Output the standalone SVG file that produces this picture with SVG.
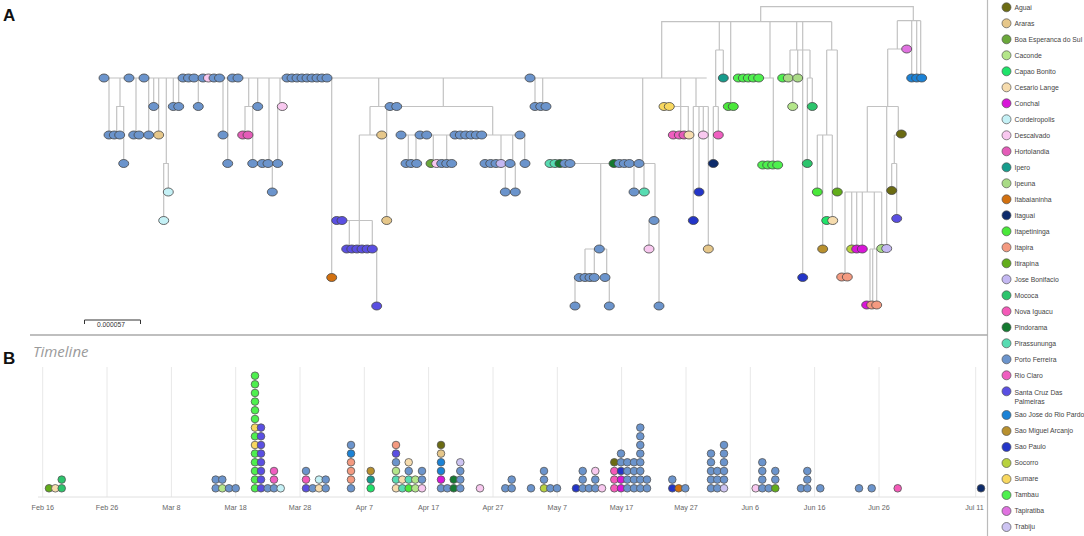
<svg xmlns="http://www.w3.org/2000/svg" xmlns:xlink="http://www.w3.org/1999/xlink" width="1084" height="536" viewBox="0 0 1084 536">
<style>
text{font-family:"Liberation Sans",Arial,sans-serif}
.lbl{font-size:17px;font-weight:bold;fill:#111}
.edges{fill:none;stroke:#c2c2c2;stroke-width:1.2}
.tn use{stroke:#454545;stroke-width:.8}
.tl use{stroke:#555;stroke-width:.8}
.lg circle{stroke:#555;stroke-width:.7}
.lg text{font-size:6.8px;fill:#444}
.ax{font-size:7.2px;fill:#666;text-anchor:middle}
.grid{stroke:#e8e8e8;stroke-width:1}
.ag{fill:#6b6b12}.ar{fill:#e6c78a}.bo{fill:#6aa83a}.ca{fill:#b4e68a}.cb{fill:#1fe36a}.cl{fill:#f6dcae}.cn{fill:#d816d8}.co{fill:#c5f1f6}.de{fill:#f8c8ef}.ho{fill:#e45cb8}.ie{fill:#169c8c}.ip{fill:#a9db86}.ib{fill:#d2700f}.ig{fill:#0d2b6b}.it{fill:#4ae83a}.ia{fill:#f49a80}.ir{fill:#62ad1a}.jb{fill:#c4b8f2}.mo{fill:#2cc46c}.ni{fill:#f45ab8}.pn{fill:#147a30}.pi{fill:#58dcb2}.pf{fill:#6b94cc}.rc{fill:#ef5ec0}.sc{fill:#5a4fe2}.sj{fill:#1b82d6}.sm{fill:#b8902e}.sp{fill:#2335c8}.so{fill:#b8d23e}.su{fill:#f8d860}.ta{fill:#4ef04e}.tp{fill:#e072e0}.tr{fill:#cdc4f2}
</style>
<defs>
<ellipse id="n" cx="0" cy="0" rx="5" ry="4"/>
<circle id="d" cx="0" cy="0" r="3.8"/>
</defs>
<rect width="1084" height="536" fill="#fff"/>
<text class="lbl" x="3" y="21">A</text>
<text class="lbl" x="3" y="364">B</text>
<line x1="987.5" y1="0" x2="987.5" y2="536" stroke="#bbb" stroke-width="1.2"/>
<line x1="30" y1="335" x2="987.5" y2="335" stroke="#aaa" stroke-width="1.5"/>
<g id="scale-bar">
<path d="M84.5,324 V320 H140.5 V324" fill="none" stroke="#333" stroke-width="1"/>
<text x="111" y="326.5" font-size="6.7" text-anchor="middle" fill="#333">0.000057</text>
</g>
<g id="connectors" class="edges">
<path d="M760.7,21.7 V6.7 H913.3 V20.7 M661.7,78 V21.7 H831.7 M104,78 H706.7
M109,78 V135 M120,78 V106.5 M116.7,135 V106.5 H123.7 V163.5 M136,78 V135 M148.7,78 V135 M153.7,78 V106.5 M158.7,78 V135
M166.3,78 V163.5 M163.7,220.5 V163.5 H168.3 V192 M173.3,78 V106.5 M178.7,78 V106.5 M198.3,78 V106.5 M223,78 V135 M227.7,78 V163.5
M248.7,78 V106.5 M245,135 V106.5 H252.7 V163.5 M257.7,78 V106.5 M269,78 V163.5 M272.3,163.5 V192 M280,78 V106.5 M277.7,106.5 V163.5 M331.7,78 V277.5
M378.7,78 V106.5 M443.3,78 V106.5 M370,106.5 H492.7 M370,106.5 V135 M359.3,135 H381.7 M359.3,135 V249
M342,220.5 H372.3 M349.3,220.5 V249 M372.3,220.5 V249 M376.7,249 V306 M386.7,106.5 V220.5
M492.7,106.5 V135 M401,135 H525 M408.3,135 V163.5 M416,135 V163.5 M433.3,135 V163.5 M446.7,135 V163.5
M501,135 V163.5 M512.7,135 V163.5 M505.3,163.5 V192 M515.3,163.5 V192 M524.7,135 V163.5 M535,78 V106.5 M542.7,78 V106.5
M642.7,78 V163.5 M550,163.5 H655 M634,163.5 V192 M644,163.5 V192 M655,163.5 V220.5 M649,220.5 V249 M659,220.5 V306
M600.7,163.5 V249 M585,249 H606.7 M585,249 V277.5 M594.3,249 V277.5 M606.7,249 V277.5 M575,277.5 V306 M609.3,277.5 V306
M680.7,78 V135 M669,106.5 H688.3 V135 M696,78 V106.5 M693.3,106.5 H708.3 M693.3,106.5 V220.5 M699,106.5 V192 M703.3,106.5 V135 M708.3,106.5 V249
M719.3,21.7 V50 M715.7,50 H723.3 M723.3,50 V78 M715.7,50 V106.5 M713.3,106.5 H718.3 M718.3,106.5 V135 M713.3,106.5 V163.5
M730.7,21.7 V106.5 M770,21.7 V78 M738,78 H773.3 V163.5
M796.7,21.7 V50 M790,50 H810 M790,50 V78 M797.7,50 V78 M792.7,78 V106.5 M810,50 V78 M807.3,78 H812.3 M812.3,78 V106.5 M807.3,78 V163.5
M802.7,21.7 V277.5 M831.7,21.7 V50 M826.7,50 H837.3 M826.7,50 V135 M837.3,50 V192 M817.3,135 H832.3 M817.3,135 V192 M822.7,135 V249 M832.3,135 V220.5
M897.3,20.7 H920.7 M911.7,20.7 V78 M916.7,20.7 V78 M920.7,20.7 V78 M897.3,20.7 V49 M887.7,49 H906.7 M887.7,49 V106.5 M867.3,106.5 H898.3
M898.3,106.5 V135 M894.3,135 H901 M894.3,135 V163.5 M891.7,163.5 H896.7 M891.7,163.5 V192 M896.7,163.5 V220.5 M886.7,106.5 V249
M867.3,106.5 V192 M845,192 H881.7 M845,192 V277.5 M851.7,192 V249 M856.7,192 V249 M862.3,192 V249 M874.3,192 V249 M870,249 H876.7 M870,249 V306 M872.7,249 V306 M876.7,249 V306 M881.7,192 V249"/>
</g>
<g id="tree-nodes" class="tn">
<g id="t1"><use href="#n" x="104" y="78" class="pf"/></g>
<g id="t2"><use href="#n" x="129" y="78" class="pf"/></g>
<g id="t3"><use href="#n" x="144" y="78" class="pf"/></g>
<g id="t4"><use href="#n" x="183" y="78" class="pf"/><use href="#n" x="188.5" y="78" class="pf"/><use href="#n" x="194" y="78" class="pf"/></g>
<g id="t5"><use href="#n" x="203" y="78" class="pf"/><use href="#n" x="208.5" y="78" class="de"/><use href="#n" x="214" y="78" class="pf"/><use href="#n" x="219.5" y="78" class="pf"/></g>
<g id="t6"><use href="#n" x="232.5" y="78" class="pf"/><use href="#n" x="238" y="78" class="pf"/></g>
<g id="t7"><use href="#n" x="287" y="78" class="pf"/><use href="#n" x="292" y="78" class="pf"/><use href="#n" x="297" y="78" class="pf"/><use href="#n" x="302" y="78" class="pf"/><use href="#n" x="307" y="78" class="pf"/><use href="#n" x="312" y="78" class="pf"/><use href="#n" x="317" y="78" class="pf"/><use href="#n" x="322" y="78" class="pf"/><use href="#n" x="327" y="78" class="pf"/></g>
<g id="t8"><use href="#n" x="530" y="78" class="pf"/></g>
<g id="t9"><use href="#n" x="723.3" y="78" class="ie"/></g>
<g id="t10"><use href="#n" x="738.3" y="78" class="ta"/><use href="#n" x="743.3" y="78" class="ta"/><use href="#n" x="748.3" y="78" class="ta"/><use href="#n" x="753.3" y="78" class="ta"/><use href="#n" x="758.7" y="78" class="ta"/></g>
<g id="t11"><use href="#n" x="782.7" y="78" class="ta"/><use href="#n" x="788.3" y="78" class="ip"/></g>
<g id="t12"><use href="#n" x="797.7" y="78" class="ip"/></g>
<g id="t13"><use href="#n" x="911.7" y="78" class="sj"/><use href="#n" x="916.7" y="78" class="sj"/><use href="#n" x="921.7" y="78" class="sj"/></g>
<g id="t14"><use href="#n" x="153.7" y="106.5" class="pf"/></g>
<g id="t15"><use href="#n" x="173.3" y="106.5" class="pf"/><use href="#n" x="178.7" y="106.5" class="pf"/></g>
<g id="t16"><use href="#n" x="198.3" y="106.5" class="pf"/></g>
<g id="t17"><use href="#n" x="257.7" y="106.5" class="pf"/></g>
<g id="t18"><use href="#n" x="282.3" y="106.5" class="de"/></g>
<g id="t19"><use href="#n" x="390" y="106.5" class="pf"/><use href="#n" x="396.7" y="106.5" class="pf"/></g>
<g id="t20"><use href="#n" x="535" y="106.5" class="pf"/><use href="#n" x="540.7" y="106.5" class="pf"/><use href="#n" x="546" y="106.5" class="pf"/></g>
<g id="t21"><use href="#n" x="664" y="106.5" class="su"/><use href="#n" x="669.3" y="106.5" class="su"/></g>
<g id="t22"><use href="#n" x="728.3" y="106.5" class="it"/><use href="#n" x="733.3" y="106.5" class="it"/></g>
<g id="t23"><use href="#n" x="792.7" y="106.5" class="ca"/></g>
<g id="t24"><use href="#n" x="812.3" y="106.5" class="mo"/></g>
<g id="t25"><use href="#n" x="906.7" y="49" class="tp"/></g>
<g id="t26"><use href="#n" x="109" y="135" class="pf"/><use href="#n" x="114.3" y="135" class="pf"/><use href="#n" x="119.7" y="135" class="pf"/></g>
<g id="t27"><use href="#n" x="133.7" y="135" class="pf"/><use href="#n" x="139" y="135" class="pf"/></g>
<g id="t28"><use href="#n" x="148.7" y="135" class="pf"/></g>
<g id="t29"><use href="#n" x="158.7" y="135" class="ar"/></g>
<g id="t30"><use href="#n" x="223" y="135" class="pf"/></g>
<g id="t31"><use href="#n" x="242.7" y="135" class="ho"/><use href="#n" x="248" y="135" class="ho"/></g>
<g id="t32"><use href="#n" x="381.7" y="135" class="ar"/></g>
<g id="t33"><use href="#n" x="401" y="135" class="pf"/></g>
<g id="t34"><use href="#n" x="420" y="135" class="pf"/><use href="#n" x="426.7" y="135" class="pf"/></g>
<g id="t35"><use href="#n" x="455" y="135" class="pf"/><use href="#n" x="460.3" y="135" class="pf"/><use href="#n" x="465.7" y="135" class="pf"/><use href="#n" x="471" y="135" class="pf"/><use href="#n" x="476.3" y="135" class="pf"/><use href="#n" x="481.7" y="135" class="pf"/></g>
<g id="t36"><use href="#n" x="520" y="135" class="pf"/></g>
<g id="t37"><use href="#n" x="673.3" y="135" class="rc"/><use href="#n" x="679.3" y="135" class="rc"/><use href="#n" x="684" y="135" class="ho"/><use href="#n" x="689" y="135" class="cl"/></g>
<g id="t38"><use href="#n" x="703.3" y="135" class="de"/></g>
<g id="t39"><use href="#n" x="718.3" y="135" class="rc"/></g>
<g id="t40"><use href="#n" x="901.3" y="134" class="ag"/></g>
<g id="t41"><use href="#n" x="123.7" y="163.5" class="pf"/></g>
<g id="t42"><use href="#n" x="227.7" y="163.5" class="pf"/></g>
<g id="t43"><use href="#n" x="252.7" y="163.5" class="pf"/></g>
<g id="t44"><use href="#n" x="262.3" y="163.5" class="pf"/><use href="#n" x="268" y="163.5" class="pf"/></g>
<g id="t45"><use href="#n" x="277.7" y="163.5" class="pf"/></g>
<g id="t46"><use href="#n" x="406" y="163.5" class="pf"/><use href="#n" x="411" y="163.5" class="pf"/><use href="#n" x="416.7" y="163.5" class="pf"/></g>
<g id="t47"><use href="#n" x="431" y="163.5" class="bo"/><use href="#n" x="436.7" y="163.5" class="de"/><use href="#n" x="441.7" y="163.5" class="pf"/><use href="#n" x="446.7" y="163.5" class="pf"/><use href="#n" x="451.7" y="163.5" class="pf"/></g>
<g id="t48"><use href="#n" x="485" y="163.5" class="pf"/><use href="#n" x="490.7" y="163.5" class="pf"/><use href="#n" x="496" y="163.5" class="pf"/><use href="#n" x="501" y="163.5" class="jb"/></g>
<g id="t49"><use href="#n" x="510" y="163.5" class="pf"/></g>
<g id="t50"><use href="#n" x="525" y="163.5" class="pf"/></g>
<g id="t51"><use href="#n" x="550" y="163.5" class="pi"/><use href="#n" x="555" y="163.5" class="pi"/><use href="#n" x="560" y="163.5" class="pn"/><use href="#n" x="565" y="163.5" class="pf"/><use href="#n" x="570" y="163.5" class="pf"/></g>
<g id="t52"><use href="#n" x="614" y="163.5" class="pn"/><use href="#n" x="619.3" y="163.5" class="pf"/><use href="#n" x="624.3" y="163.5" class="pf"/><use href="#n" x="629.3" y="163.5" class="pf"/></g>
<g id="t53"><use href="#n" x="639" y="163.5" class="pf"/></g>
<g id="t54"><use href="#n" x="713.3" y="163.5" class="ig"/></g>
<g id="t55"><use href="#n" x="762.7" y="165" class="ta"/><use href="#n" x="767.7" y="165" class="ta"/><use href="#n" x="772.7" y="165" class="ta"/><use href="#n" x="777.7" y="165" class="ta"/></g>
<g id="t56"><use href="#n" x="807.3" y="163.5" class="mo"/></g>
<g id="t57"><use href="#n" x="168.3" y="192" class="co"/></g>
<g id="t58"><use href="#n" x="272.3" y="192" class="pf"/></g>
<g id="t59"><use href="#n" x="505.3" y="192" class="pf"/></g>
<g id="t60"><use href="#n" x="515.3" y="192" class="pf"/></g>
<g id="t61"><use href="#n" x="634" y="192" class="pf"/></g>
<g id="t62"><use href="#n" x="644.3" y="192" class="pi"/></g>
<g id="t63"><use href="#n" x="699" y="192" class="sp"/></g>
<g id="t64"><use href="#n" x="817.3" y="192" class="it"/></g>
<g id="t65"><use href="#n" x="837.3" y="192" class="ir"/></g>
<g id="t66"><use href="#n" x="891.7" y="190.5" class="ag"/></g>
<g id="t67"><use href="#n" x="163.7" y="220.5" class="co"/></g>
<g id="t68"><use href="#n" x="336.7" y="220.5" class="sc"/><use href="#n" x="342" y="220.5" class="sc"/></g>
<g id="t69"><use href="#n" x="386.7" y="220.5" class="ar"/></g>
<g id="t70"><use href="#n" x="654" y="220.5" class="pf"/></g>
<g id="t71"><use href="#n" x="693.3" y="220.5" class="sp"/></g>
<g id="t72"><use href="#n" x="826.7" y="220.5" class="cb"/><use href="#n" x="832.7" y="220.5" class="cl"/></g>
<g id="t73"><use href="#n" x="896.7" y="218.5" class="sc"/></g>
<g id="t74"><use href="#n" x="346.7" y="249" class="sc"/><use href="#n" x="351.8" y="249" class="sc"/><use href="#n" x="356.9" y="249" class="sc"/><use href="#n" x="362" y="249" class="sc"/><use href="#n" x="367.1" y="249" class="sc"/><use href="#n" x="372.3" y="249" class="sc"/></g>
<g id="t75"><use href="#n" x="599.3" y="249" class="pf"/></g>
<g id="t76"><use href="#n" x="649" y="249" class="de"/></g>
<g id="t77"><use href="#n" x="708.3" y="249" class="ar"/></g>
<g id="t78"><use href="#n" x="822.7" y="249" class="sm"/></g>
<g id="t79"><use href="#n" x="851.7" y="249" class="so"/><use href="#n" x="856.7" y="249" class="cn"/><use href="#n" x="862.3" y="249" class="cn"/></g>
<g id="t80"><use href="#n" x="881.7" y="248.5" class="ip"/><use href="#n" x="886.7" y="248.5" class="jb"/></g>
<g id="t81"><use href="#n" x="331.7" y="277.5" class="ib"/></g>
<g id="t82"><use href="#n" x="579.3" y="277.5" class="pf"/><use href="#n" x="585" y="277.5" class="pf"/><use href="#n" x="590" y="277.5" class="pf"/><use href="#n" x="594.3" y="277.5" class="pf"/></g>
<g id="t83"><use href="#n" x="605" y="277.5" class="pf"/></g>
<g id="t84"><use href="#n" x="802.7" y="277.5" class="sp"/></g>
<g id="t85"><use href="#n" x="841.7" y="277" class="ia"/><use href="#n" x="847.3" y="277" class="ia"/></g>
<g id="t86"><use href="#n" x="376.7" y="306" class="sc"/></g>
<g id="t87"><use href="#n" x="575" y="306" class="pf"/></g>
<g id="t88"><use href="#n" x="609.3" y="306" class="pf"/></g>
<g id="t89"><use href="#n" x="659" y="306" class="pf"/></g>
<g id="t90"><use href="#n" x="866.7" y="305" class="cn"/><use href="#n" x="871.7" y="305" class="ia"/><use href="#n" x="876.7" y="305" class="ia"/></g>
</g>
<g id="timeline">
<text x="33" y="357" font-family="'Open Sans',sans-serif" font-style="italic" font-size="15" fill="#9a9a9a" style="font-family:'Open Sans',sans-serif">Timeline</text>
<g class="grid">
<line x1="42.7" y1="367" x2="42.7" y2="497"/><line x1="107" y1="367" x2="107" y2="497"/><line x1="171.4" y1="367" x2="171.4" y2="497"/><line x1="235.7" y1="367" x2="235.7" y2="497"/><line x1="300" y1="367" x2="300" y2="497"/><line x1="364.3" y1="367" x2="364.3" y2="497"/><line x1="428.6" y1="367" x2="428.6" y2="497"/><line x1="493" y1="367" x2="493" y2="497"/><line x1="557.3" y1="367" x2="557.3" y2="497"/><line x1="621.6" y1="367" x2="621.6" y2="497"/><line x1="686" y1="367" x2="686" y2="497"/><line x1="750.3" y1="367" x2="750.3" y2="497"/><line x1="814.6" y1="367" x2="814.6" y2="497"/><line x1="879" y1="367" x2="879" y2="497"/><line x1="975.7" y1="367" x2="975.7" y2="497"/>
</g>
<line x1="38" y1="497" x2="985" y2="497" stroke="#e0e0e0" stroke-width="1"/>
<g class="ax">
<text x="42.7" y="509.5">Feb 16</text><text x="107" y="509.5">Feb 26</text><text x="171.4" y="509.5">Mar 8</text><text x="235.7" y="509.5">Mar 18</text><text x="300" y="509.5">Mar 28</text><text x="364.3" y="509.5">Apr 7</text><text x="428.6" y="509.5">Apr 17</text><text x="493" y="509.5">Apr 27</text><text x="557.3" y="509.5">May 7</text><text x="621.6" y="509.5">May 17</text><text x="686" y="509.5">May 27</text><text x="750.3" y="509.5">Jun 6</text><text x="814.6" y="509.5">Jun 16</text><text x="879" y="509.5">Jun 26</text><text x="974.5" y="509.5">Jul 11</text>
</g>
<g class="tl">
<use href="#d" x="49" y="488.3" class="ir"/>
<use href="#d" x="55.3" y="488.3" class="cl"/>
<use href="#d" x="61.7" y="488.3" class="mo"/><use href="#d" x="61.7" y="479.6" class="mo"/>
<use href="#d" x="215.7" y="488.3" class="pf"/><use href="#d" x="215.7" y="479.6" class="pf"/>
<use href="#d" x="222.3" y="488.3" class="ca"/><use href="#d" x="222.3" y="479.6" class="pf"/>
<use href="#d" x="229" y="488.3" class="pf"/>
<use href="#d" x="235.7" y="488.3" class="pf"/>
<use href="#d" x="255" y="488.3" class="ta"/><use href="#d" x="255" y="479.6" class="ta"/><use href="#d" x="255" y="471" class="ta"/><use href="#d" x="255" y="462.3" class="ta"/><use href="#d" x="255" y="453.6" class="ta"/><use href="#d" x="255" y="445" class="su"/><use href="#d" x="255" y="436.3" class="ta"/><use href="#d" x="255" y="427.6" class="su"/><use href="#d" x="255" y="419" class="ta"/><use href="#d" x="255" y="410.3" class="ta"/><use href="#d" x="255" y="401.6" class="ta"/><use href="#d" x="255" y="393" class="ta"/><use href="#d" x="255" y="384.3" class="ta"/><use href="#d" x="255" y="375.7" class="ta"/>
<use href="#d" x="261" y="488.3" class="sc"/><use href="#d" x="261" y="479.6" class="sc"/><use href="#d" x="261" y="471" class="sc"/><use href="#d" x="261" y="462.3" class="sc"/><use href="#d" x="261" y="453.6" class="sc"/><use href="#d" x="261" y="445" class="sc"/><use href="#d" x="261" y="436.3" class="sc"/><use href="#d" x="261" y="427.6" class="sc"/>
<use href="#d" x="267.7" y="488.3" class="pf"/>
<use href="#d" x="274" y="488.3" class="pf"/><use href="#d" x="274" y="479.6" class="rc"/><use href="#d" x="274" y="471" class="rc"/>
<use href="#d" x="280.7" y="488.3" class="co"/>
<use href="#d" x="306" y="488.3" class="sc"/><use href="#d" x="306" y="479.6" class="ni"/><use href="#d" x="306" y="471" class="pf"/>
<use href="#d" x="312.7" y="488.3" class="pf"/>
<use href="#d" x="319" y="488.3" class="cl"/><use href="#d" x="319" y="479.6" class="co"/>
<use href="#d" x="325.7" y="488.3" class="pf"/><use href="#d" x="325.7" y="479.6" class="pf"/>
<use href="#d" x="351" y="488.3" class="pf"/><use href="#d" x="351" y="479.6" class="ia"/><use href="#d" x="351" y="471" class="ia"/><use href="#d" x="351" y="462.3" class="ia"/><use href="#d" x="351" y="453.6" class="sj"/><use href="#d" x="351" y="445" class="pf"/>
<use href="#d" x="370.7" y="488.3" class="cb"/><use href="#d" x="370.7" y="479.6" class="ie"/><use href="#d" x="370.7" y="471" class="sm"/>
<use href="#d" x="396" y="488.3" class="cl"/><use href="#d" x="396" y="479.6" class="pi"/><use href="#d" x="396" y="471" class="ca"/><use href="#d" x="396" y="462.3" class="pf"/><use href="#d" x="396" y="453.6" class="sc"/><use href="#d" x="396" y="445" class="ia"/>
<use href="#d" x="402.3" y="488.3" class="pi"/><use href="#d" x="402.3" y="479.6" class="cl"/>
<use href="#d" x="408.7" y="488.3" class="it"/><use href="#d" x="408.7" y="479.6" class="pi"/><use href="#d" x="408.7" y="471" class="pf"/><use href="#d" x="408.7" y="462.3" class="cl"/>
<use href="#d" x="415.3" y="488.3" class="ca"/><use href="#d" x="415.3" y="479.6" class="ca"/>
<use href="#d" x="422" y="488.3" class="de"/><use href="#d" x="422" y="479.6" class="pf"/><use href="#d" x="422" y="471" class="pf"/>
<use href="#d" x="441" y="488.3" class="pf"/><use href="#d" x="441" y="479.6" class="cn"/><use href="#d" x="441" y="471" class="sj"/><use href="#d" x="441" y="462.3" class="sj"/><use href="#d" x="441" y="453.6" class="ar"/><use href="#d" x="441" y="445" class="ag"/>
<use href="#d" x="447.3" y="488.3" class="pf"/>
<use href="#d" x="453.7" y="488.3" class="pn"/><use href="#d" x="453.7" y="479.6" class="pn"/>
<use href="#d" x="460.3" y="488.3" class="pf"/><use href="#d" x="460.3" y="479.6" class="pf"/><use href="#d" x="460.3" y="471" class="pf"/><use href="#d" x="460.3" y="462.3" class="tr"/>
<use href="#d" x="480" y="488.3" class="de"/>
<use href="#d" x="505.3" y="488.3" class="pf"/>
<use href="#d" x="511.7" y="488.3" class="pf"/><use href="#d" x="511.7" y="479.6" class="pf"/>
<use href="#d" x="531" y="488.3" class="pf"/>
<use href="#d" x="544" y="488.3" class="so"/><use href="#d" x="544" y="479.6" class="pf"/><use href="#d" x="544" y="471" class="pf"/>
<use href="#d" x="550.3" y="488.3" class="pf"/>
<use href="#d" x="557" y="488.3" class="pf"/>
<use href="#d" x="576" y="488.3" class="sp"/>
<use href="#d" x="582.7" y="488.3" class="pf"/><use href="#d" x="582.7" y="479.6" class="pf"/><use href="#d" x="582.7" y="471" class="pf"/>
<use href="#d" x="589" y="488.3" class="pf"/>
<use href="#d" x="595.3" y="488.3" class="pf"/><use href="#d" x="595.3" y="479.6" class="pf"/><use href="#d" x="595.3" y="471" class="de"/>
<use href="#d" x="602" y="488.3" class="de"/>
<use href="#d" x="614.3" y="488.3" class="ni"/><use href="#d" x="614.3" y="479.6" class="ni"/><use href="#d" x="614.3" y="471" class="ni"/><use href="#d" x="614.3" y="462.3" class="ag"/>
<use href="#d" x="621" y="488.3" class="cn"/><use href="#d" x="621" y="479.6" class="cn"/><use href="#d" x="621" y="471" class="sp"/><use href="#d" x="621" y="462.3" class="pf"/><use href="#d" x="621" y="453.6" class="pf"/>
<use href="#d" x="627.3" y="488.3" class="pf"/><use href="#d" x="627.3" y="479.6" class="pf"/><use href="#d" x="627.3" y="471" class="pf"/><use href="#d" x="627.3" y="462.3" class="pf"/>
<use href="#d" x="634" y="488.3" class="pf"/><use href="#d" x="634" y="479.6" class="pf"/><use href="#d" x="634" y="471" class="pf"/><use href="#d" x="634" y="462.3" class="pf"/>
<use href="#d" x="640.3" y="488.3" class="pf"/><use href="#d" x="640.3" y="479.6" class="pf"/><use href="#d" x="640.3" y="471" class="pf"/><use href="#d" x="640.3" y="462.3" class="pf"/><use href="#d" x="640.3" y="453.6" class="pf"/><use href="#d" x="640.3" y="445" class="pf"/><use href="#d" x="640.3" y="436.3" class="pf"/><use href="#d" x="640.3" y="427.6" class="pf"/>
<use href="#d" x="647" y="488.3" class="pf"/><use href="#d" x="647" y="479.6" class="pf"/>
<use href="#d" x="672.3" y="488.3" class="sp"/><use href="#d" x="672.3" y="479.6" class="pf"/>
<use href="#d" x="678.7" y="488.3" class="ib"/>
<use href="#d" x="685.3" y="488.3" class="pf"/>
<use href="#d" x="711" y="488.3" class="pf"/><use href="#d" x="711" y="479.6" class="pf"/><use href="#d" x="711" y="471" class="pf"/><use href="#d" x="711" y="462.3" class="pf"/><use href="#d" x="711" y="453.6" class="pf"/>
<use href="#d" x="717.3" y="488.3" class="pf"/><use href="#d" x="717.3" y="479.6" class="pf"/><use href="#d" x="717.3" y="471" class="pf"/>
<use href="#d" x="724" y="488.3" class="tr"/><use href="#d" x="724" y="479.6" class="pf"/><use href="#d" x="724" y="471" class="pf"/><use href="#d" x="724" y="462.3" class="pf"/><use href="#d" x="724" y="453.6" class="pf"/><use href="#d" x="724" y="445" class="pf"/>
<use href="#d" x="755.7" y="488.3" class="de"/>
<use href="#d" x="762.3" y="488.3" class="pf"/><use href="#d" x="762.3" y="479.6" class="pf"/><use href="#d" x="762.3" y="471" class="pf"/><use href="#d" x="762.3" y="462.3" class="pf"/>
<use href="#d" x="768.7" y="488.3" class="pf"/>
<use href="#d" x="775.3" y="488.3" class="ir"/><use href="#d" x="775.3" y="479.6" class="pf"/><use href="#d" x="775.3" y="471" class="pf"/>
<use href="#d" x="801" y="488.3" class="pf"/>
<use href="#d" x="807.3" y="488.3" class="pf"/><use href="#d" x="807.3" y="479.6" class="pf"/><use href="#d" x="807.3" y="471" class="pf"/>
<use href="#d" x="820.3" y="488.3" class="pf"/>
<use href="#d" x="859" y="488.3" class="pf"/>
<use href="#d" x="871.7" y="488.3" class="pf"/>
<use href="#d" x="897.7" y="488.3" class="ni"/>
<use href="#d" x="981" y="488.3" class="ig"/>
</g>
</g>
<g id="legend" class="lg">
<circle cx="1006.5" cy="7.3" r="4.5" class="ag"/><text x="1014.5" y="9.7">Aguai</text>
<circle cx="1006.5" cy="23.3" r="4.5" class="ar"/><text x="1014.5" y="25.7">Araras</text>
<circle cx="1006.5" cy="39.3" r="4.5" class="bo"/><text x="1014.5" y="41.7">Boa Esperanca do Sul</text>
<circle cx="1006.5" cy="55.3" r="4.5" class="ca"/><text x="1014.5" y="57.7">Caconde</text>
<circle cx="1006.5" cy="71.3" r="4.5" class="cb"/><text x="1014.5" y="73.7">Capao Bonito</text>
<circle cx="1006.5" cy="87.3" r="4.5" class="cl"/><text x="1014.5" y="89.7">Cesario Lange</text>
<circle cx="1006.5" cy="103.3" r="4.5" class="cn"/><text x="1014.5" y="105.7">Conchal</text>
<circle cx="1006.5" cy="119.3" r="4.5" class="co"/><text x="1014.5" y="121.7">Cordeiropolis</text>
<circle cx="1006.5" cy="135.3" r="4.5" class="de"/><text x="1014.5" y="137.7">Descalvado</text>
<circle cx="1006.5" cy="151.3" r="4.5" class="ho"/><text x="1014.5" y="153.7">Hortolandia</text>
<circle cx="1006.5" cy="167.3" r="4.5" class="ie"/><text x="1014.5" y="169.7">Ipero</text>
<circle cx="1006.5" cy="183.3" r="4.5" class="ip"/><text x="1014.5" y="185.7">Ipeuna</text>
<circle cx="1006.5" cy="199.3" r="4.5" class="ib"/><text x="1014.5" y="201.7">Itabaianinha</text>
<circle cx="1006.5" cy="215.3" r="4.5" class="ig"/><text x="1014.5" y="217.7">Itaguai</text>
<circle cx="1006.5" cy="231.3" r="4.5" class="it"/><text x="1014.5" y="233.7">Itapetininga</text>
<circle cx="1006.5" cy="247.3" r="4.5" class="ia"/><text x="1014.5" y="249.7">Itapira</text>
<circle cx="1006.5" cy="263.3" r="4.5" class="ir"/><text x="1014.5" y="265.7">Itirapina</text>
<circle cx="1006.5" cy="279.3" r="4.5" class="jb"/><text x="1014.5" y="281.7">Jose Bonifacio</text>
<circle cx="1006.5" cy="295.3" r="4.5" class="mo"/><text x="1014.5" y="297.7">Mococa</text>
<circle cx="1006.5" cy="311.3" r="4.5" class="ni"/><text x="1014.5" y="313.7">Nova Iguacu</text>
<circle cx="1006.5" cy="327.3" r="4.5" class="pn"/><text x="1014.5" y="329.7">Pindorama</text>
<circle cx="1006.5" cy="343.3" r="4.5" class="pi"/><text x="1014.5" y="345.7">Pirassununga</text>
<circle cx="1006.5" cy="359.3" r="4.5" class="pf"/><text x="1014.5" y="361.7">Porto Ferreira</text>
<circle cx="1006.5" cy="375.3" r="4.5" class="rc"/><text x="1014.5" y="377.7">Rio Claro</text>
<circle cx="1006.5" cy="391.3" r="4.5" class="sc"/><text x="1014.5" y="395">Santa Cruz Das</text><text x="1014.5" y="403.5">Palmeiras</text>
<circle cx="1006.5" cy="415" r="4.5" class="sj"/><text x="1014.5" y="417.4">Sao Jose do Rio Pardo</text>
<circle cx="1006.5" cy="431" r="4.5" class="sm"/><text x="1014.5" y="433.4">Sao Miguel Arcanjo</text>
<circle cx="1006.5" cy="447" r="4.5" class="sp"/><text x="1014.5" y="449.4">Sao Paulo</text>
<circle cx="1006.5" cy="463" r="4.5" class="so"/><text x="1014.5" y="465.4">Socorro</text>
<circle cx="1006.5" cy="479" r="4.5" class="su"/><text x="1014.5" y="481.4">Sumare</text>
<circle cx="1006.5" cy="495" r="4.5" class="ta"/><text x="1014.5" y="497.4">Tambau</text>
<circle cx="1006.5" cy="511" r="4.5" class="tp"/><text x="1014.5" y="513.4">Tapiratiba</text>
<circle cx="1006.5" cy="527" r="4.5" class="tr"/><text x="1014.5" y="529.4">Trabiju</text>
</g>
</svg>
